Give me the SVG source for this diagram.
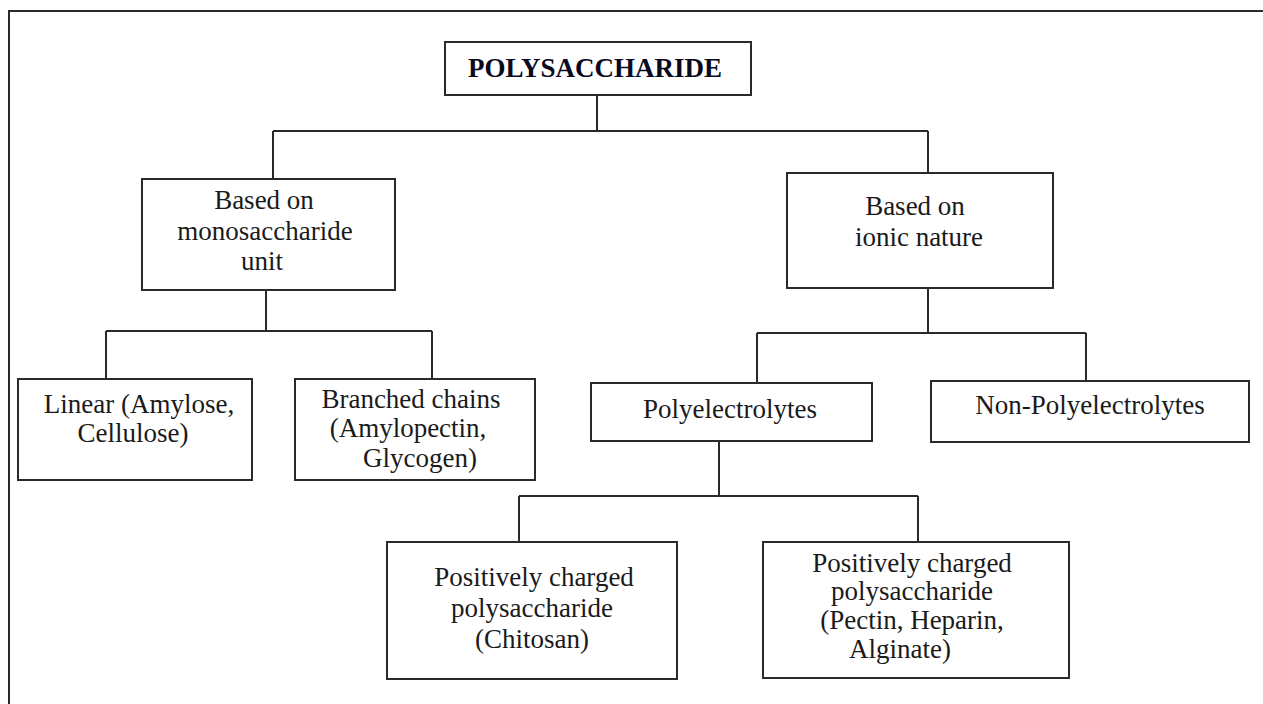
<svg xmlns="http://www.w3.org/2000/svg" width="1263" height="704" viewBox="0 0 1263 704">
<style>
.box{fill:#fff;stroke:#2a2a2a;stroke-width:2}
.t{font-family:"Liberation Serif","Times New Roman",serif;font-size:27px;fill:#1a1a1a;text-anchor:middle}
.b{font-weight:bold;fill:#0a0a1e}
.c{fill:none;stroke:#2a2a2a;stroke-width:2}
</style>
<rect width="1263" height="704" fill="#fff"/>
<path class="c" d="M9,704 V11 H1263"/>
<g id="connectors">
<path class="c" d="M597,95 V131 M273,131 H928 M273,131 V179 M928,131 V173"/>
<path class="c" d="M266,290 V331 M106,331 H432 M106,331 V379 M432,331 V379"/>
<path class="c" d="M928,288 V333 M757,333 H1086 M757,333 V383 M1086,333 V381"/>
<path class="c" d="M719,441 V496 M519,496 H918 M519,496 V542 M918,496 V542"/>
</g>
<g id="root">
<rect class="box" x="445" y="42" width="306" height="53"/>
<text class="t b" x="595" y="77">POLYSACCHARIDE</text>
</g>
<g id="monosaccharide">
<rect class="box" x="142" y="179" width="253" height="111"/>
<text class="t" x="264" y="209">Based on</text>
<text class="t" x="265" y="240">monosaccharide</text>
<text class="t" x="262" y="270">unit</text>
</g>
<g id="ionic">
<rect class="box" x="787" y="173" width="266" height="115"/>
<text class="t" x="915" y="215">Based on</text>
<text class="t" x="919" y="246">ionic nature</text>
</g>
<g id="linear">
<rect class="box" x="18" y="379" width="234" height="101"/>
<text class="t" x="139" y="413">Linear (Amylose,</text>
<text class="t" x="133" y="442">Cellulose)</text>
</g>
<g id="branched">
<rect class="box" x="295" y="379" width="240" height="101"/>
<text class="t" x="411" y="408">Branched chains</text>
<text class="t" x="408" y="437">(Amylopectin,</text>
<text class="t" x="420" y="467">Glycogen)</text>
</g>
<g id="polyelectrolytes">
<rect class="box" x="591" y="383" width="281" height="58"/>
<text class="t" x="730" y="418">Polyelectrolytes</text>
</g>
<g id="nonpoly">
<rect class="box" x="931" y="381" width="318" height="61"/>
<text class="t" x="1090" y="414">Non-Polyelectrolytes</text>
</g>
<g id="chitosan">
<rect class="box" x="387" y="542" width="290" height="137"/>
<text class="t" x="534" y="586">Positively charged</text>
<text class="t" x="532" y="617">polysaccharide</text>
<text class="t" x="532" y="648">(Chitosan)</text>
</g>
<g id="pectin">
<rect class="box" x="763" y="542" width="306" height="136"/>
<text class="t" x="912" y="572">Positively charged</text>
<text class="t" x="912" y="600">polysaccharide</text>
<text class="t" x="912" y="629">(Pectin, Heparin,</text>
<text class="t" x="900" y="658">Alginate)</text>
</g>
</svg>
